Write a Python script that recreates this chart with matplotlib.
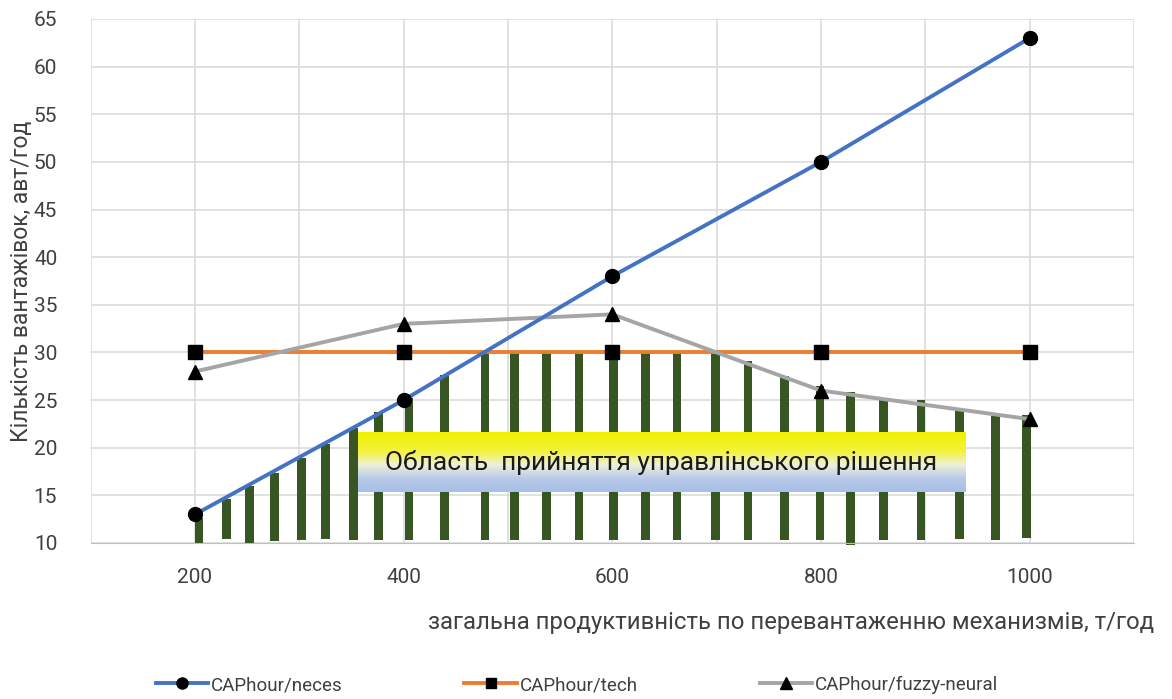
import numpy as np
import matplotlib

matplotlib.use("Agg")
import matplotlib.pyplot as plt
from matplotlib.colors import LinearSegmentedColormap

plt.rcParams["font.family"] = ["Roboto", "DejaVu Sans"]

# Hourly truck capacity against total handling productivity.
X = [200, 400, 600, 800, 1000]
CAP_NECES = [13, 25, 38, 50, 63]
CAP_TECH = [30, 30, 30, 30, 30]
CAP_FUZZY = [28, 33, 34, 26, 23]
SERIES_NAMES = ["CAPhour/neces", "CAPhour/tech", "CAPhour/fuzzy-neural"]

# Hand-drawn hatching under the lower envelope (decision region).
HATCH_X = [204, 230, 252, 276, 302, 325, 352, 376, 405, 439, 478, 506, 537, 568,
           601, 632, 662, 699, 730, 765, 799, 828, 860, 896, 933, 967, 997]
HATCH_TOP = [12.6, 14.6, 16.0, 17.3, 18.9, 20.4, 22.1, 23.7, 25.2, 27.6, 30.1, 30.0,
             30.0, 30.0, 30.0, 30.0, 30.0, 30.0, 29.1, 27.5, 26.5, 25.8, 25.2, 25.0,
             24.1, 23.3, 23.4]
HATCH_BOTTOM = [10.0, 10.4, 10.0, 10.2, 10.3, 10.4, 10.3, 10.3, 10.3, 10.3, 10.3, 10.3,
                10.3, 10.3, 10.3, 10.3, 10.3, 10.3, 10.3, 10.3, 10.3, 9.8, 10.3, 10.3,
                10.4, 10.3, 10.5]

REGION_LABEL = "Область  прийняття управлінського рішення"
REGION_EXTENT = [356, 938, 15.35, 21.55]

X_TICKS = [200, 400, 600, 800, 1000]
XLABEL = "загальна продуктивність по перевантаженню механизмів, т/год"
YLABEL = "Кількість вантажівок, авт/год"

TEXT = "#404040"
GRID = "#d9d9d9"

fig = plt.figure(figsize=(11.72, 6.99), dpi=100)
ax = fig.add_axes([90.6 / 1172, 156 / 699, 1043.4 / 1172, 524 / 699])

ax.bar(HATCH_X, np.subtract(HATCH_TOP, HATCH_BOTTOM), bottom=HATCH_BOTTOM,
       width=8.3, color="#375623", zorder=2, clip_on=False)

# gradient label box sitting over the hatching
grad = np.linspace(0, 1, 256).reshape(-1, 1)
cmap = LinearSegmentedColormap.from_list(
    "region", [(0.0, "#f0f000"), (0.32, "#f3f33c"), (0.55, "#eef0da"),
               (0.78, "#b7c9ea"), (1.0, "#a8bfe6")])
ax.imshow(grad, extent=REGION_EXTENT, aspect="auto", cmap=cmap, origin="upper",
          zorder=3, interpolation="bilinear")
ax.text((REGION_EXTENT[0] + REGION_EXTENT[1]) / 2, (REGION_EXTENT[2] + REGION_EXTENT[3]) / 2,
        REGION_LABEL, ha="center", va="center", fontsize=19, color="#1a1a1a", zorder=4)

ax.plot(X, CAP_NECES, color="#4472C4", lw=2.8, marker="o", ms=10,
        mfc="black", mec="black", zorder=6, label=SERIES_NAMES[0])
ax.plot(X, CAP_TECH, color="#ED7D31", lw=2.8, marker="s", ms=9.5,
        mfc="black", mec="black", zorder=5, label=SERIES_NAMES[1])
ax.plot(X, CAP_FUZZY, color="#A5A5A5", lw=2.8, marker="^", ms=10,
        mfc="black", mec="black", zorder=5, label=SERIES_NAMES[2])

ax.set_xlim(100, 1100)
ax.set_ylim(10, 65)
# gridlines every 100, labels every 200
ax.set_xticks(range(100, 1101, 100))
ax.set_xticklabels([str(v) if v in X_TICKS else "" for v in range(100, 1101, 100)])
ax.set_yticks(range(10, 66, 5))
ax.tick_params(length=0, labelsize=15, colors=TEXT)
ax.tick_params(axis="x", pad=18)
ax.tick_params(axis="y", pad=24)
ax.grid(True, color=GRID, lw=1.1, zorder=0)
ax.set_axisbelow(True)
for side in ("top", "right", "left"):
    ax.spines[side].set_visible(False)
ax.spines["bottom"].set_color("#bfbfbf")

fig.text(428 / 1172, 1 - 622 / 699, XLABEL, ha="left", va="center",
         fontsize=17.2, color=TEXT)
fig.text(22 / 1172, 1 - 281 / 699, YLABEL, ha="center", va="center",
         rotation=90, fontsize=16.5, color=TEXT)

fig.legend(loc="center", bbox_to_anchor=(577 / 1172, 1 - 685 / 699), ncol=3,
           frameon=False, fontsize=13.5, handlelength=2.8, handletextpad=0.15,
           columnspacing=6.5, markerscale=0.8, labelcolor=TEXT)

fig.savefig("out.png", dpi=100)
